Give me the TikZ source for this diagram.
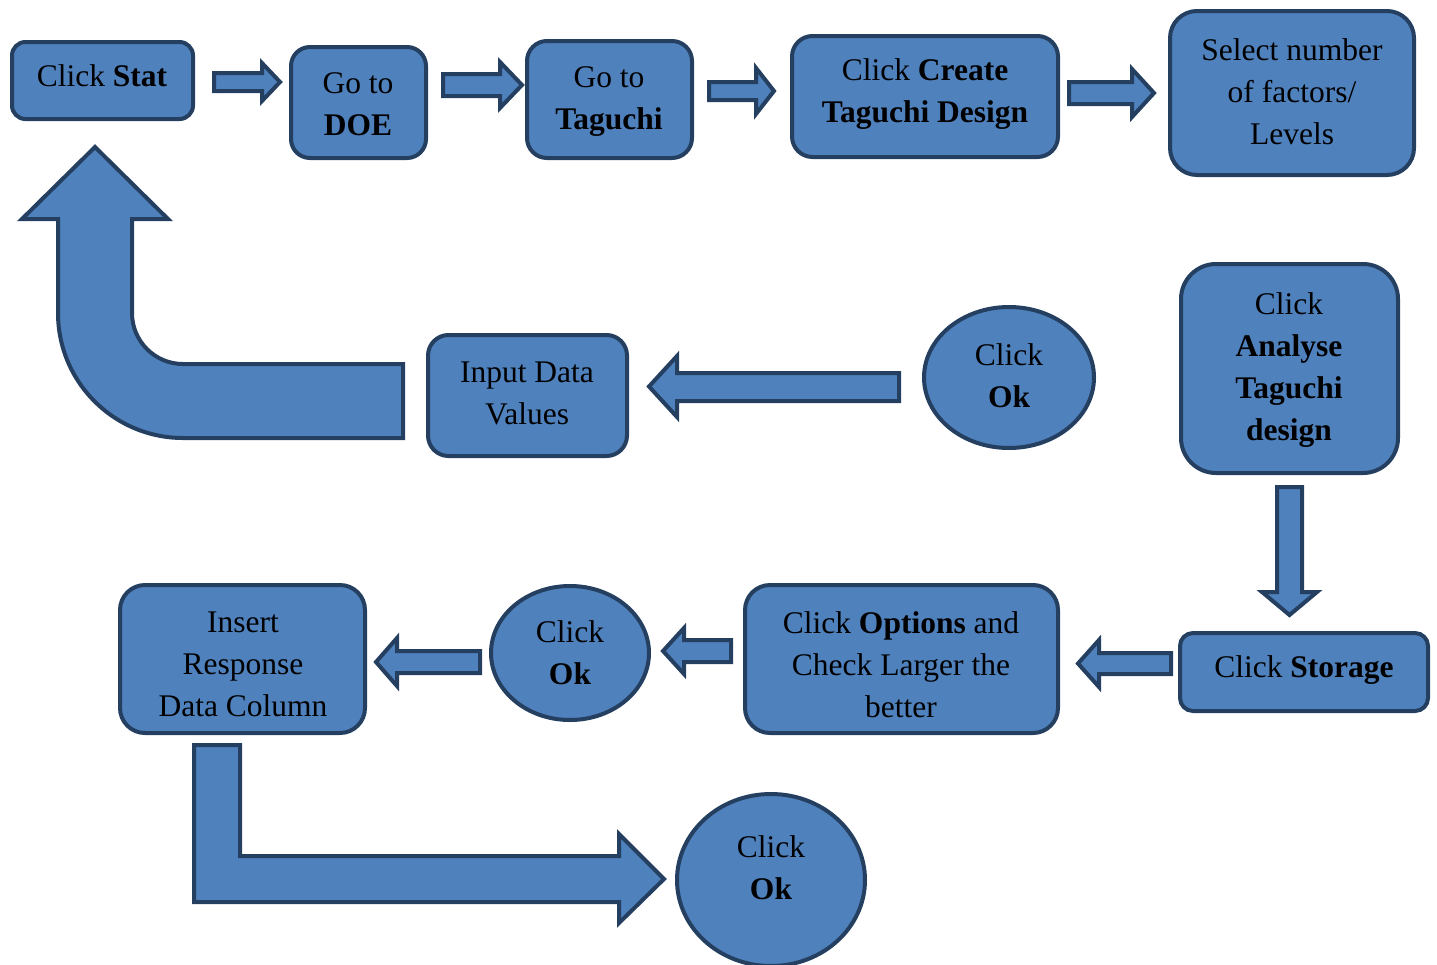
\documentclass[tikz,border=0pt]{standalone}
\usepackage{fontspec}
\setmainfont{Liberation Serif}
\usetikzlibrary{shapes.geometric}
\definecolor{fillb}{HTML}{4F81BD}
\definecolor{edgeb}{HTML}{243F60}
\tikzset{
  box/.style={draw=edgeb, fill=fillb, line width=4pt, inner sep=0pt},
  oval/.style={ellipse, draw=edgeb, fill=fillb, line width=4pt, inner sep=0pt},
  txt/.style={align=center, inner sep=0pt, font=\fontsize{31.5}{42}\selectfont, text=black},
  barrow/.style={draw=edgeb, fill=fillb, line width=4pt, line join=miter, miter limit=4}
}
\begin{document}
\begin{tikzpicture}[x=1pt, y=-1pt]
\useasboundingbox (0,0) rectangle (1437,964);

% ---- boxes ----
\node[box, rounded corners=13.5pt, minimum width=181pt, minimum height=77pt] (stat) at (102.5,80.5) {};
\node[box, rounded corners=19pt, minimum width=135pt, minimum height=111pt] (doe) at (358.5,102.5) {};
\node[box, rounded corners=20pt, minimum width=165pt, minimum height=117pt] (tag) at (609.5,99.5) {};
\node[box, rounded corners=20.5pt, minimum width=266pt, minimum height=121pt] (create) at (925,96.5) {};
\node[box, rounded corners=27pt, minimum width=244pt, minimum height=164pt] (select) at (1292,93) {};
\node[box, rounded corners=20.5pt, minimum width=199pt, minimum height=121pt] (input) at (527.5,395.5) {};
\node[oval, minimum width=170pt, minimum height=141pt] (ok1) at (1009,377.5) {};
\node[box, rounded corners=35pt, minimum width=217pt, minimum height=209pt] (analyse) at (1289.5,368.5) {};
\node[box, rounded corners=13pt, minimum width=248pt, minimum height=78pt] (storage) at (1304,672) {};
\node[box, rounded corners=25pt, minimum width=313pt, minimum height=148pt] (options) at (901.5,659) {};
\node[oval, minimum width=158pt, minimum height=134pt] (ok2) at (570,653) {};
\node[box, rounded corners=25pt, minimum width=245pt, minimum height=148pt] (insert) at (242.5,659) {};
\node[oval, minimum width=188pt, minimum height=172pt] (ok3) at (771,880) {};

% ---- texts ----
\node[txt] (statT) at (102,75.5) {Click \textbf{Stat}};
\node[txt] (doeT) at (358,104) {Go to\\\textbf{DOE}};
\node[txt] (tagT) at (609,102) {Go to\\\textbf{Taguchi}};
\node[txt] (createT) at (925,94.5) {Click \textbf{Create}\\\textbf{Taguchi Design}};
\node[txt] (selectT) at (1292,92) {Select number\\of factors/\\Levels};
\node[txt] (inputT) at (527,393) {Input Data\\Values};
\node[txt] (ok1T) at (1009,376) {Click\\\textbf{Ok}};
\node[txt] (analyseT) at (1289,370.5) {Click\\\textbf{Analyse}\\\textbf{Taguchi}\\\textbf{design}};
\node[txt] (storageT) at (1304,670) {Click \textbf{Storage}};
\node[txt] (optionsT) at (901,664.5) {Click \textbf{Options} and\\Check Larger the\\better};
\node[txt] (ok2T) at (570,653) {Click\\\textbf{Ok}};
\node[txt] (insertT) at (243,664) {Insert\\Response\\Data Column};
\node[txt] (ok3T) at (771,868) {Click\\\textbf{Ok}};

% ---- block arrows ----
% stat -> doe
\draw[barrow] (214,73) -- (262,73) -- (262,63) -- (280,82) -- (262,101) -- (262,91) -- (214,91) -- cycle;
% doe -> taguchi
\draw[barrow] (443,74) -- (500,74) -- (500,62) -- (522,85) -- (500,108) -- (500,96) -- (443,96) -- cycle;
% taguchi -> create
\draw[barrow] (709,82) -- (756,82) -- (756,68) -- (774,91) -- (756,114) -- (756,100) -- (709,100) -- cycle;
% create -> select
\draw[barrow] (1069,82) -- (1132,82) -- (1132,69) -- (1154,93) -- (1132,117) -- (1132,104) -- (1069,104) -- cycle;
% analyse -> storage
\draw[barrow] (1277,487) -- (1302,487) -- (1302,592) -- (1317,592) -- (1289.5,615) -- (1262,592) -- (1277,592) -- cycle;
% storage -> options
\draw[barrow] (1171,653) -- (1099,653) -- (1099,640) -- (1078,663.5) -- (1099,687) -- (1099,674) -- (1171,674) -- cycle;
% options -> ok2
\draw[barrow] (731,640) -- (684,640) -- (684,628) -- (663,651) -- (684,674) -- (684,662) -- (731,662) -- cycle;
% ok2 -> insert
\draw[barrow] (480,651) -- (397,651) -- (397,638) -- (376,662) -- (397,686) -- (397,673) -- (480,673) -- cycle;
% ok1 -> input
\draw[barrow] (899,373) -- (677,373) -- (677,356) -- (649,386.5) -- (677,417) -- (677,401) -- (899,401) -- cycle;
% input -> stat (curved)
\draw[barrow] (95,147) -- (168,219) -- (132,219) -- (132,313)
  arc[start angle=180, end angle=90, radius=51] -- (403,364) -- (403,438) -- (183,438)
  arc[start angle=90, end angle=180, radius=125] -- (58,219) -- (22,219) -- cycle;
% insert -> ok3 (L shape)
\draw[barrow] (194,745) -- (240,745) -- (240,856) -- (619,856) -- (619,834) -- (664,879) -- (619,923) -- (619,902) -- (194,902) -- cycle;
\end{tikzpicture}
\end{document}
